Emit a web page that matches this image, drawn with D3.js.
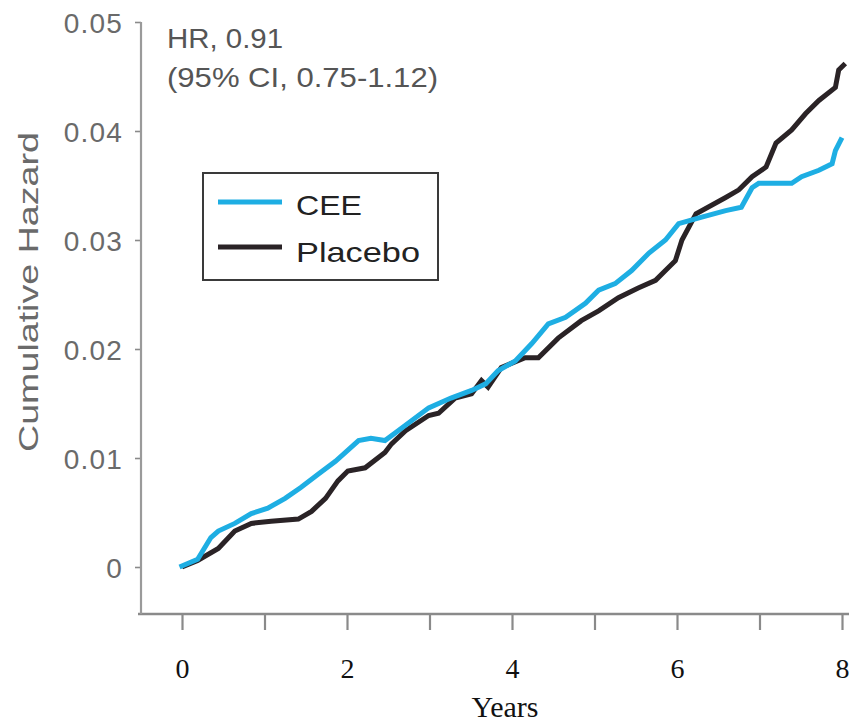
<!DOCTYPE html>
<html>
<head>
<meta charset="utf-8">
<script src="https://cdn.jsdelivr.net/npm/d3@7"></script>
<style>
  html, body { margin: 0; padding: 0; background: #fff; }
  svg { display: block; }
</style>
</head>
<body>
<svg id="chart" width="849" height="722"></svg>
<script>
// ---- data ----
const xTicks = [0, 1, 2, 3, 4, 5, 6, 7, 8];
const xTickLabels = ["0", "", "2", "", "4", "", "6", "", "8"];
const yTicks = [0, 0.01, 0.02, 0.03, 0.04, 0.05];
const yTickLabels = ["0", "0.01", "0.02", "0.03", "0.04", "0.05"];
const seriesNames = ["CEE", "Placebo"];

const ceeYears = [-0.03, 0.19, 0.35, 0.44, 0.64, 0.84, 1.04, 1.25, 1.44, 1.65, 1.86, 2.14, 2.29, 2.46, 2.62, 2.99,
  3.26, 3.51, 3.68, 3.83, 4.04, 4.24, 4.44, 4.65, 4.89, 5.05, 5.25, 5.45, 5.66, 5.86, 6.02, 6.30, 6.59,
  6.78, 6.91, 6.99, 7.39, 7.51, 7.72, 7.88, 7.92, 8.0];
const ceeHazard = [0, 0.0007, 0.0027, 0.0033, 0.0040, 0.0049, 0.0054, 0.0063, 0.0073, 0.0085, 0.0097, 0.0116, 0.0118, 0.0116, 0.0125, 0.0146,
  0.0155, 0.0162, 0.0168, 0.0180, 0.0189, 0.0205, 0.0223, 0.0229, 0.0242, 0.0254, 0.0260, 0.0272, 0.0288, 0.0300, 0.0315, 0.0321, 0.0327,
  0.0330, 0.0348, 0.0352, 0.0352, 0.0358, 0.0364, 0.0370, 0.0382, 0.0394];

const placeboYears = [0.0, 0.19, 0.44, 0.64, 0.84, 1.08, 1.41, 1.57, 1.74, 1.89, 2.01, 2.22, 2.46, 2.54, 2.71, 2.99, 3.11,
  3.31, 3.51, 3.63, 3.71, 3.87, 4.16, 4.32, 4.56, 4.84, 5.05, 5.29, 5.53, 5.74, 5.86, 5.98, 6.06, 6.23, 6.59,
  6.75, 6.91, 7.08, 7.20, 7.39, 7.56, 7.72, 7.92, 7.96, 8.04];
const placeboHazard = [0, 0.0006, 0.0017, 0.0033, 0.0040, 0.0042, 0.0044, 0.0051, 0.0063, 0.0079, 0.0088, 0.0091, 0.0105, 0.0113, 0.0125, 0.0139, 0.0141,
  0.0155, 0.0159, 0.0171, 0.0165, 0.0183, 0.0192, 0.0192, 0.0210, 0.0226, 0.0235, 0.0247, 0.0256, 0.0263, 0.0272, 0.0281, 0.0300, 0.0324, 0.0339,
  0.0346, 0.0358, 0.0367, 0.0389, 0.0401, 0.0416, 0.0428, 0.0440, 0.0456, 0.0462];

const annotationLines = ["HR, 0.91", "(95% CI, 0.75-1.12)"];
const xTitle = "Years";
const yTitle = "Cumulative Hazard";

// ---- drawing ----
const svg = d3.select("#chart");
const x = d3.scaleLinear().domain([0, 8]).range([182, 842]);
const y = d3.scaleLinear().domain([0, 0.05]).range([567, 22]);
const xAxisY = 614;
const yAxisX = 141;
const colors = { CEE: "#1eaee3", Placebo: "#2a2326" };
const sans = "'Liberation Sans', Arial, Helvetica, sans-serif";
const serif = "'Liberation Serif', 'Times New Roman', Times, serif";

// x axis
const gx = svg.append("g").attr("transform", `translate(0,${xAxisY})`)
  .call(d3.axisBottom(x).tickValues(xTicks).tickSize(16).tickFormat((d, i) => xTickLabels[i]));
gx.select(".domain").remove();
gx.selectAll(".tick line").attr("stroke", "#8a8a8a").attr("stroke-width", 2.2);
gx.selectAll(".tick text")
  .attr("y", 64).attr("dy", 0)
  .attr("fill", "#111").attr("font-family", serif).attr("font-size", 28);
gx.append("line")
  .attr("x1", yAxisX - 3).attr("x2", 849)
  .attr("y1", 0).attr("y2", 0)
  .attr("stroke", "#8a8a8a").attr("stroke-width", 2.6);

// y axis
const gy = svg.append("g").attr("transform", `translate(${yAxisX},0)`)
  .call(d3.axisLeft(y).tickValues(yTicks).tickSize(6).tickPadding(12).tickFormat((d, i) => yTickLabels[i]));
gy.select(".domain").remove();
gy.selectAll(".tick line").attr("stroke", "#8a8a8a").attr("stroke-width", 1.6);
gy.selectAll(".tick text")
  .attr("fill", "#6a6a6a").attr("font-family", sans).attr("font-size", 28)
  .attr("letter-spacing", 1.2).attr("dy", "0.36em");
gy.append("line")
  .attr("x1", 0).attr("x2", 0)
  .attr("y1", y(0.05)).attr("y2", xAxisY)
  .attr("stroke", "#9a9a9a").attr("stroke-width", 2.2);

// titles
svg.append("text")
  .attr("x", (x(0) + x(8)) / 2 - 7).attr("y", 717)
  .attr("text-anchor", "middle")
  .attr("font-family", serif).attr("font-size", 30).attr("fill", "#111")
  .text(xTitle);

svg.append("text")
  .attr("transform", `translate(38,292) rotate(-90)`)
  .attr("text-anchor", "middle")
  .attr("font-family", sans).attr("font-size", 28).attr("fill", "#6a6a6a")
  .attr("textLength", 320).attr("lengthAdjust", "spacingAndGlyphs")
  .text(yTitle);

// annotation
const annoWidths = [116, 271];
const annoBase = [48, 87];
annotationLines.forEach((t, i) => {
  svg.append("text")
    .attr("x", 167).attr("y", annoBase[i])
    .attr("font-family", sans).attr("font-size", 28).attr("fill", "#555")
    .attr("textLength", annoWidths[i]).attr("lengthAdjust", "spacingAndGlyphs")
    .text(t);
});

// lines
const line = d3.line().x(d => x(d[0])).y(d => y(d[1])).curve(d3.curveLinear);
const ceeData = ceeYears.map((t, i) => [t, ceeHazard[i]]);
const placeboData = placeboYears.map((t, i) => [t, placeboHazard[i]]);

svg.append("path").datum(placeboData)
  .attr("d", line).attr("fill", "none")
  .attr("stroke", colors.Placebo).attr("stroke-width", 5)
  .attr("stroke-linejoin", "miter").attr("stroke-linecap", "butt");
svg.append("path").datum(ceeData)
  .attr("d", line).attr("fill", "none")
  .attr("stroke", colors.CEE).attr("stroke-width", 5)
  .attr("stroke-linejoin", "miter").attr("stroke-linecap", "butt");

// legend
const lg = svg.append("g");
lg.append("rect")
  .attr("x", 203).attr("y", 173).attr("width", 235).attr("height", 107)
  .attr("fill", "#fff").attr("stroke", "#3a3a3a").attr("stroke-width", 2);
const legendY = [202, 247];
const legendTextY = [215, 262];
const legendTextW = [66, 124];
seriesNames.forEach((name, i) => {
  lg.append("line")
    .attr("x1", 218).attr("x2", 282)
    .attr("y1", legendY[i]).attr("y2", legendY[i])
    .attr("stroke", colors[name]).attr("stroke-width", 5);
  lg.append("text")
    .attr("x", 296).attr("y", legendTextY[i])
    .attr("font-family", sans).attr("font-size", 28).attr("fill", "#222")
    .attr("textLength", legendTextW[i]).attr("lengthAdjust", "spacingAndGlyphs")
    .text(name);
});
</script>
</body>
</html>
